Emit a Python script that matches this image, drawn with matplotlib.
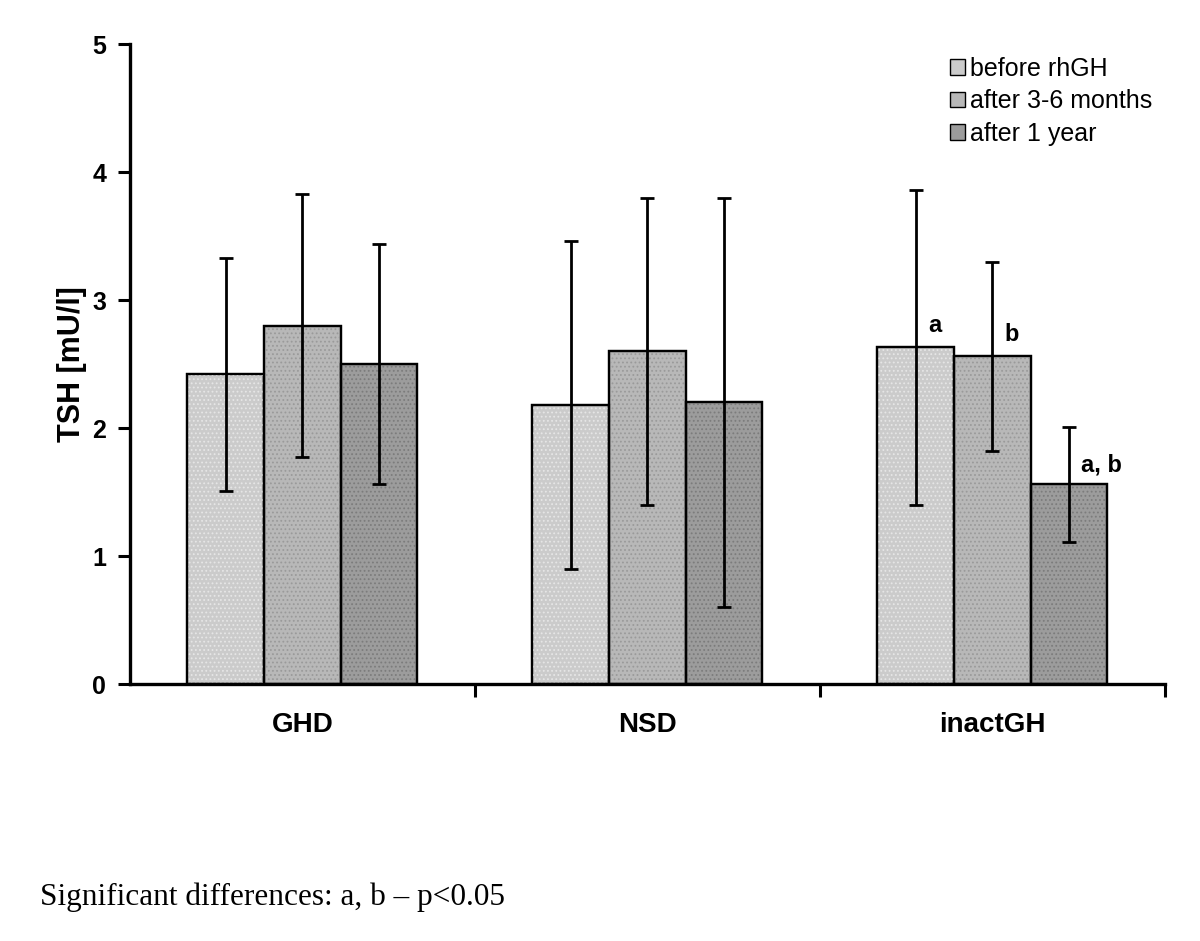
import numpy as np
import matplotlib
matplotlib.use("Agg")
import matplotlib.pyplot as plt

groups = ["GHD", "NSD", "inactGH"]
series = ["before rhGH", "after 3-6 months", "after 1 year"]
means = [
    [2.42, 2.18, 2.63],  # before rhGH
    [2.80, 2.60, 2.56],  # after 3-6 months
    [2.50, 2.20, 1.56],  # after 1 year
]
sds = [
    [0.91, 1.28, 1.23],
    [1.03, 1.20, 0.74],
    [0.94, 1.60, 0.45],
]
# significance marks: (group index, series index, text)
marks = [(2, 0, "a"), (2, 1, "b"), (2, 2, "a, b")]
footnote = "Significant differences: a, b \u2013 p<0.05"

FACES = ["#cbcbcb", "#b8b8b8", "#9c9c9c"]
DOTS = ["#e6e6e6", "#9a9a9a", "#7c7c7c"]
INK = "black"

plt.rcParams["font.family"] = ["Liberation Sans", "DejaVu Sans"]
plt.rcParams["hatch.linewidth"] = 0.8

fig = plt.figure(figsize=(12, 9.41), dpi=100)
ax = fig.add_axes([0.1083, 0.2731, 0.8625, 0.6801])

x = np.arange(len(groups))
w = 2 / 9
for i, name in enumerate(series):
    pos = x + (i - 1) * w
    ax.bar(pos, means[i], width=w, color=FACES[i], edgecolor=INK,
           linewidth=1.6, label=name, zorder=2)
    # fine dotted texture like the original print
    ax.bar(pos, means[i], width=w, facecolor="none", edgecolor=DOTS[i],
           hatch="....", linewidth=0, zorder=2.5)
    ax.bar(pos, means[i], width=w, facecolor="none", edgecolor=INK,
           linewidth=1.6, zorder=2.6)
    ax.errorbar(pos, means[i], yerr=sds[i], fmt="none", ecolor=INK,
                elinewidth=2, capsize=5, capthick=2, zorder=3)

offs = {"a": (0.035, 0.08), "b": (0.035, 0.08), "a, b": (0.035, 0.06)}
for g, s, txt in marks:
    xp = x[g] + (s - 1) * w
    dx, dy = offs[txt]
    ax.text(xp + dx, means[s][g] + dy, txt, fontsize=17, fontweight="bold",
            ha="left", va="bottom", color=INK)

ax.set_xlim(-0.5, 2.5)
ax.set_ylim(0, 5)
ax.set_yticks(range(6))
ax.set_xticks([0.5, 1.5, 2.5])
ax.set_xticklabels([])
ax.set_xticks(x, minor=True)
ax.set_xticklabels(groups, minor=True, fontsize=20, fontweight="bold")
ax.tick_params(axis="x", which="major", direction="out", length=9, width=2.2)
ax.tick_params(axis="x", which="minor", length=0, pad=20)
ax.tick_params(axis="y", direction="out", length=9, width=2.2, pad=8,
               labelsize=18)
for lab in ax.get_yticklabels():
    lab.set_fontweight("bold")
for s in ("top", "right"):
    ax.spines[s].set_visible(False)
for s in ("left", "bottom"):
    ax.spines[s].set_linewidth(2.4)
ax.set_ylabel("TSH [mU/l]", fontsize=22, fontweight="bold", labelpad=4)

leg = ax.legend(loc="upper right", bbox_to_anchor=(1.0, 1.0), frameon=False,
                fontsize=18, handlelength=0.6, handleheight=0.6,
                handletextpad=0.2, labelspacing=0.35, borderaxespad=0.1)
for h in leg.legend_handles:
    h.set_linewidth(1.0)

fig.text(40 / 1200, 1 - 897 / 941, footnote, fontsize=22.5,
         family=["Liberation Serif", "DejaVu Serif"], va="center", ha="left")

fig.savefig("out.png", dpi=100)
